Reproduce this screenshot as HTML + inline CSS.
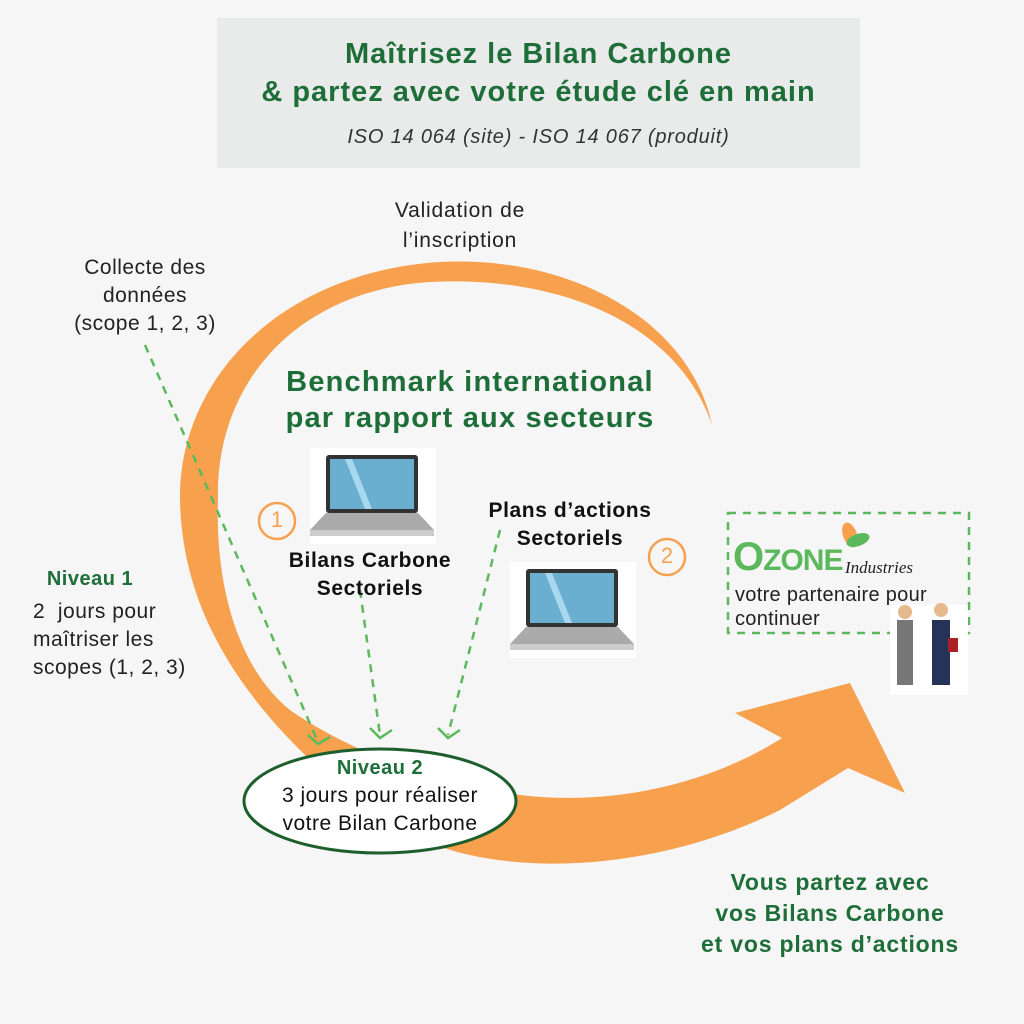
<!DOCTYPE html>
<html><head><meta charset="utf-8"><style>
body{margin:0;width:1024px;height:1024px;background:#f6f6f6;font-family:"Liberation Sans",sans-serif;overflow:hidden}
.t{position:absolute;text-align:center;white-space:nowrap}
</style></head><body>
<svg width="1024" height="1024" style="position:absolute;left:0;top:0">
<rect x="217" y="18" width="643" height="150" fill="#e9ebea"/>
<path d="M712,425 C690,320 570,255 440,262 C280,272 178,380 180,500 C182,600 230,680 300,750 C360,810 420,845 470,855 C560,875 680,860 780,810 L848,768 L905,793 L850,683 L735,713 L782,738 C700,790 600,805 520,795 C430,785 340,745 290,710 C240,670 215,590 218,500 C215,380 300,290 430,282 C570,275 680,330 712,425 Z" fill="#f7a14f"/>
<g stroke="#5cb85c" stroke-width="2.5" stroke-dasharray="8,7" fill="none">
<line x1="145" y1="345" x2="318" y2="742"/>
<line x1="360" y1="590" x2="380" y2="735"/>
<line x1="500" y1="530" x2="448" y2="735"/>
<rect x="728" y="513" width="241" height="120"/>
</g>
<g stroke="#5cb85c" stroke-width="2.5" fill="none">
<path d="M308,735 L318,744 L330,737"/><path d="M370,728 L380,738 L392,730"/><path d="M438,728 L448,738 L460,730"/>
</g>
<ellipse cx="380" cy="801" rx="136" ry="52" fill="#fff" stroke="#1d5e2d" stroke-width="3"/>
<circle cx="277" cy="521" r="18" fill="none" stroke="#f7a14f" stroke-width="2.5"/>
<circle cx="667" cy="557" r="18" fill="none" stroke="#f7a14f" stroke-width="2.5"/>
<g>
<rect x="310" y="448" width="126" height="96" fill="#fff"/>
<rect x="326" y="455" width="92" height="58" fill="#333" rx="3"/><rect x="330" y="459" width="84" height="50" fill="#6aaed0"/>
<polygon points="345,459 352,459 372,509 365,509" fill="#a8d8ee"/>
<polygon points="310,530 326,513 418,513 434,530" fill="#aaa"/><rect x="310" y="530" width="124" height="6" fill="#ccc"/>
<rect x="510" y="562" width="126" height="96" fill="#fff"/>
<rect x="526" y="569" width="92" height="58" fill="#333" rx="3"/><rect x="530" y="573" width="84" height="50" fill="#6aaed0"/>
<polygon points="545,573 552,573 572,623 565,623" fill="#a8d8ee"/>
<polygon points="510,644 526,627 618,627 634,644" fill="#aaa"/><rect x="510" y="644" width="124" height="6" fill="#ccc"/>
</g>
<ellipse cx="850" cy="535" rx="7" ry="13" fill="#f7a14f" transform="rotate(-20 850 535)"/>
<ellipse cx="858" cy="540" rx="12" ry="6" fill="#5cb85c" transform="rotate(-20 858 540)"/>
<rect x="890" y="605" width="78" height="90" fill="#fff"/>
<rect x="897" y="620" width="16" height="65" fill="#777"/><circle cx="905" cy="612" r="7" fill="#e6b98f"/>
<rect x="932" y="620" width="18" height="65" fill="#253358"/><circle cx="941" cy="610" r="7" fill="#e6b98f"/>
<rect x="948" y="638" width="10" height="14" fill="#a22"/>
</svg>
<div class="t" style="left:217px;width:643px;top:35px;font-size:29px;line-height:38px;color:#1d6e38;font-weight:bold;letter-spacing:1px">Maîtrisez le Bilan Carbone<br>&amp; partez avec votre étude clé en main</div>
<div class="t" style="left:217px;width:643px;top:126px;font-size:20px;font-style:italic;color:#333;letter-spacing:0.8px">ISO 14 064 (site) - ISO 14 067 (produit)</div>
<div class="t" style="left:360px;width:200px;top:196px;font-size:21px;line-height:30px;color:#222;letter-spacing:0.8px">Validation de<br>l’inscription</div>
<div class="t" style="left:45px;width:200px;top:254px;font-size:21px;line-height:28px;color:#222;letter-spacing:0.5px">Collecte des<br>données<br>(scope 1, 2, 3)</div>
<div class="t" style="left:230px;width:480px;top:364px;font-size:29px;line-height:36px;color:#1d6e38;font-weight:bold;letter-spacing:1.2px">Benchmark international<br>par rapport aux secteurs</div>
<div class="t" style="left:270px;top:507px;font-size:22px;color:#f7a14f;width:14px">1</div>
<div class="t" style="left:660px;top:543px;font-size:22px;color:#f7a14f;width:14px">2</div>
<div class="t" style="left:270px;width:200px;top:547px;font-size:21px;line-height:28px;color:#111;font-weight:bold;letter-spacing:0.6px">Bilans Carbone<br>Sectoriels</div>
<div class="t" style="left:470px;width:200px;top:497px;font-size:21px;line-height:28px;color:#111;font-weight:bold;letter-spacing:0.6px">Plans d’actions<br>Sectoriels</div>
<div class="t" style="left:30px;width:120px;top:568px;font-size:20px;color:#1d6e38;font-weight:bold;letter-spacing:0.5px">Niveau 1</div>
<div class="t" style="left:33px;top:598px;font-size:21px;line-height:28px;color:#222;text-align:left;letter-spacing:0.5px">2&nbsp; jours pour<br>maîtriser les<br>scopes (1, 2, 3)</div>
<div class="t" style="left:280px;width:200px;top:757px;font-size:20px;color:#1d6e38;font-weight:bold;letter-spacing:0.5px">Niveau 2</div>
<div class="t" style="left:244px;width:272px;top:782px;font-size:21px;line-height:28px;color:#111;letter-spacing:0.5px">3 jours pour réaliser<br>votre Bilan Carbone</div>
<div class="t" style="left:733px;top:535px;font-size:40px;font-weight:bold;color:#5cb85c;letter-spacing:-1px">O<span style="font-size:30px">ZONE</span></div>
<div class="t" style="left:845px;top:558px;font-size:17px;font-style:italic;color:#222;font-family:'Liberation Serif',serif">Industries</div>
<div class="t" style="left:735px;top:583px;font-size:20px;line-height:24px;color:#222;text-align:left;letter-spacing:0.3px">votre partenaire pour<br>continuer</div>
<div class="t" style="left:660px;width:340px;top:867px;font-size:23px;line-height:31px;color:#1d6e38;font-weight:bold;letter-spacing:0.8px">Vous partez avec<br>vos Bilans Carbone<br>et vos plans d’actions</div>
</body></html>
